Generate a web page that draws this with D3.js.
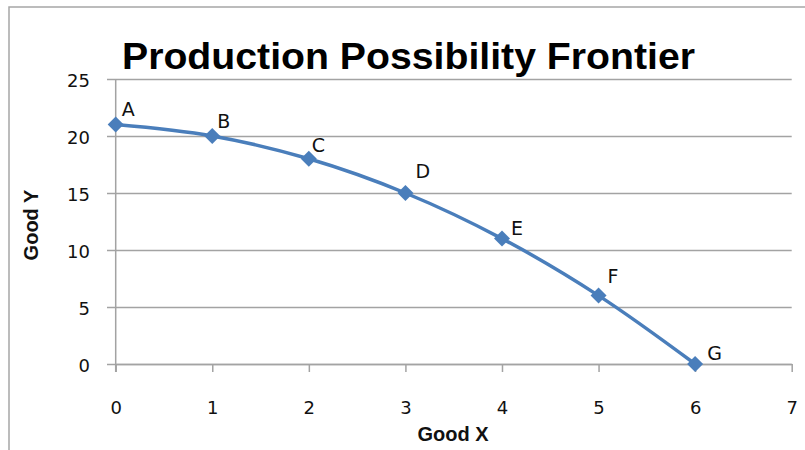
<!DOCTYPE html>
<html>
<head>
<meta charset="utf-8">
<script src="https://cdn.jsdelivr.net/npm/d3@7/dist/d3.min.js"></script>
<style>
  html, body { margin: 0; padding: 0; background: #ffffff; }
  svg { display: block; }
</style>
</head>
<body>
<script>
// Production possibility data: units of Good X vs. Good Y
const pointLabels = ["A", "B", "C", "D", "E", "F", "G"];
const goodX = [0, 1, 2, 3, 4, 5, 6];
const goodY = [21, 20, 18, 15, 11, 6, 0];
const xTicks = [0, 1, 2, 3, 4, 5, 6, 7];
const yTicks = [0, 5, 10, 15, 20, 25];

const titleText = "Production Possibility Frontier";
const xTitle = "Good X";
const yTitle = "Good Y";

// Layout
const W = 805, H = 450;
const plot = { left: 115.7, right: 791.7, top: 79, bottom: 364 };
// per-label nudges (dx, dy) from each marker
const labelNudge = [[6, -9], [5, -8], [3, -7], [10, -15], [9, -4], [9, -13], [12, -4]];

const lineColor = "#4a7ebb";
const gridColor = "#a3a3a3";
const textColor = "#111111";

const svg = d3.select("body").append("svg")
  .attr("width", W).attr("height", H);

// chart frame (continues past the right and bottom edges)
svg.append("path")
  .attr("d", `M9,${H + 2} L9,7 L${W + 2},7`)
  .attr("fill", "none").attr("stroke", "#a6a6a6").attr("stroke-width", 1.5);

const x = d3.scaleLinear().domain([0, 7]).range([plot.left, plot.right]);
const y = d3.scaleLinear().domain([0, 25]).range([plot.bottom, plot.top]);

// horizontal gridlines + y axis
const yAxis = d3.axisLeft(y).tickValues(yTicks)
  .tickSize(plot.right - 107)
  .tickSizeOuter(0).tickPadding(0).tickFormat(d3.format("d"));
const gy = svg.append("g")
  .attr("transform", `translate(${plot.right},0)`)
  .call(yAxis);
gy.select(".domain").remove();
gy.selectAll(".tick line").attr("stroke", gridColor).attr("stroke-width", 1.5);
gy.selectAll(".tick text").remove();
gy.selectAll(".tick").append("text")
  .attr("x", 90 - plot.right).attr("y", 7.5)
  .attr("text-anchor", "end")
  .attr("fill", textColor)
  .style("font-family", "'DejaVu Sans', sans-serif")
  .style("font-size", "18px")
  .text(d => d);

// vertical axis line
svg.append("line")
  .attr("x1", plot.left).attr("x2", plot.left)
  .attr("y1", plot.top).attr("y2", plot.bottom + 8)
  .attr("stroke", gridColor).attr("stroke-width", 1.5);

// x axis
const xAxis = d3.axisBottom(x).tickValues(xTicks).tickSize(8).tickSizeOuter(0)
  .tickPadding(0).tickFormat(d3.format("d"));
const gx = svg.append("g")
  .attr("transform", `translate(0,${plot.bottom})`)
  .call(xAxis);
gx.select(".domain").attr("stroke", gridColor).attr("stroke-width", 1.5);
gx.selectAll(".tick line").attr("stroke", gridColor).attr("stroke-width", 1.5);
gx.selectAll(".tick text").remove();
gx.selectAll(".tick").append("text")
  .attr("y", 49.5)
  .attr("text-anchor", "middle")
  .attr("fill", textColor)
  .style("font-family", "'DejaVu Sans', sans-serif")
  .style("font-size", "18px")
  .text(d => d);

// frontier curve
const pts = goodX.map((gxv, i) => ({ x: gxv, y: goodY[i], label: pointLabels[i], i }));
const line = d3.line()
  .x(d => x(d.x)).y(d => y(d.y))
  .curve(d3.curveCatmullRom.alpha(0.5));
svg.append("path")
  .datum(pts)
  .attr("d", line)
  .attr("fill", "none")
  .attr("stroke", lineColor)
  .attr("stroke-width", 3.5)
  .attr("stroke-linejoin", "round");

// diamond markers
svg.selectAll(".marker")
  .data(pts).enter().append("path")
  .attr("class", "marker")
  .attr("transform", d => `translate(${x(d.x)},${y(d.y)}) rotate(45)`)
  .attr("d", d3.symbol().type(d3.symbolSquare).size(128))
  .attr("fill", lineColor);

// point labels
svg.selectAll(".plabel")
  .data(pts).enter().append("text")
  .attr("class", "plabel")
  .attr("x", d => x(d.x) + labelNudge[d.i][0])
  .attr("y", d => y(d.y) + labelNudge[d.i][1])
  .attr("fill", textColor)
  .style("font-family", "'DejaVu Sans', sans-serif")
  .style("font-size", "19px")
  .text(d => d.label);

// chart title
svg.append("text")
  .attr("x", 122).attr("y", 69)
  .attr("textLength", 573).attr("lengthAdjust", "spacingAndGlyphs")
  .attr("fill", "#000")
  .style("font-family", "'Liberation Sans', Arial, sans-serif")
  .style("font-weight", "bold")
  .style("font-size", "37px")
  .text(titleText);

// axis titles
svg.append("text")
  .attr("x", 453).attr("y", 441)
  .attr("text-anchor", "middle")
  .attr("fill", textColor)
  .style("font-family", "'Liberation Sans', Arial, sans-serif")
  .style("font-weight", "bold")
  .style("font-size", "20px")
  .text(xTitle);

svg.append("text")
  .attr("transform", "translate(38,225) rotate(-90)")
  .attr("text-anchor", "middle")
  .attr("fill", textColor)
  .style("font-family", "'Liberation Sans', Arial, sans-serif")
  .style("font-weight", "bold")
  .style("font-size", "20px")
  .text(yTitle);
</script>
</body>
</html>
